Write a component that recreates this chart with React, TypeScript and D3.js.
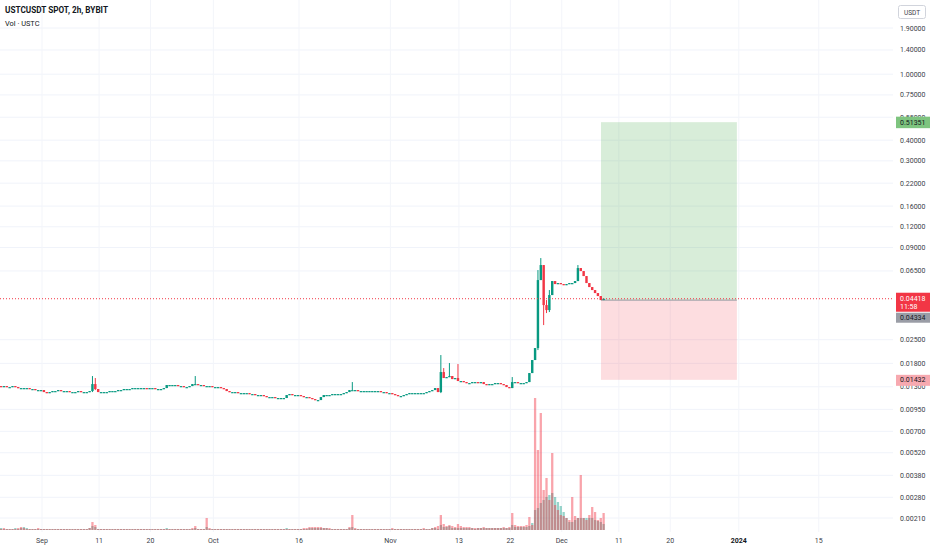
import React from 'react';
import * as d3 from 'd3';

const W = 932;
const H = 550;
const PLOT_R = 893;

// 12h candles starting at this UTC time
const CANDLE_START = Date.UTC(2023, 7, 24, 8, 0);
const CANDLE_STEP = 12 * 3600 * 1000;
const FIRST_OPEN = 0.01313;

const closes = [
  0.01313, 0.01295, 0.01313, 0.01295, 0.01295, 0.01313, 0.01295, 0.01277, 0.01277, 0.01277,
  0.01277, 0.0126, 0.0126, 0.01242, 0.01242, 0.01242, 0.01208, 0.01191, 0.01208, 0.01225,
  0.01225, 0.01242, 0.01225, 0.01225, 0.01225, 0.01208, 0.01208, 0.01208, 0.01225, 0.01208,
  0.01208, 0.01208, 0.01225, 0.0135, 0.0126, 0.01208, 0.01208, 0.01208, 0.01208, 0.01225,
  0.01225, 0.01225, 0.01242, 0.01242, 0.0126, 0.0126, 0.0126, 0.01277, 0.01277, 0.01277,
  0.01277, 0.01277, 0.0126, 0.01277, 0.01277, 0.0126, 0.0126, 0.0126, 0.01277, 0.01332,
  0.01332, 0.01332, 0.01332, 0.01313, 0.01313, 0.01295, 0.01295, 0.01313, 0.0135, 0.0135,
  0.01332, 0.01332, 0.01313, 0.01313, 0.01313, 0.01295, 0.01295, 0.01295, 0.01277, 0.0126,
  0.01225, 0.01208, 0.01208, 0.01208, 0.01191, 0.01191, 0.01191, 0.01191, 0.01175, 0.01175,
  0.01159, 0.01159, 0.01159, 0.01143, 0.01127, 0.01127, 0.01127, 0.01112, 0.01112, 0.01112,
  0.01112, 0.01159, 0.01175, 0.01159, 0.01159, 0.01159, 0.01143, 0.01127, 0.01127, 0.01112,
  0.01096, 0.01081, 0.01081, 0.01127, 0.01159, 0.01159, 0.01159, 0.01175, 0.01175, 0.01175,
  0.01175, 0.01191, 0.01208, 0.01242, 0.01242, 0.01242, 0.01225, 0.01225, 0.01225, 0.01225,
  0.01225, 0.01225, 0.01225, 0.01225, 0.01208, 0.01208, 0.01191, 0.01191, 0.01175, 0.01159,
  0.01143, 0.01143, 0.01159, 0.01175, 0.01191, 0.01191, 0.01191, 0.01191, 0.01191, 0.01191,
  0.01208, 0.01225, 0.01242, 0.01277, 0.01208, 0.01595, 0.01468, 0.01488, 0.01509, 0.01447,
  0.01468, 0.01408, 0.01408, 0.01388, 0.01369, 0.01369, 0.01388, 0.01388, 0.01369, 0.01388,
  0.0135, 0.01332, 0.0135, 0.0135, 0.01369, 0.01369, 0.0135, 0.01332, 0.01295, 0.01277,
  0.01388, 0.01388, 0.01369, 0.01369, 0.01369, 0.01388, 0.01573, 0.01885, 0.02226, 0.05726,
  0.07054, 0.04046, 0.03774, 0.04649, 0.05647, 0.05417, 0.05493, 0.05417, 0.05342, 0.05417,
  0.05493, 0.05493, 0.05647, 0.06765, 0.06489, 0.06054, 0.05493, 0.05196, 0.04984, 0.0478,
  0.04585, 0.04337, 0.04418,
];

// notable wicks: [candle index, high, low] (0 = no wick beyond body)
const wicks: [number, number, number][] = [
  [33, 0.01509, 0.01208],
  [34, 0.01468, 0.01242],
  [69, 0.01509, 0],
  [124, 0.01388, 0],
  [155, 0.0202, 0.01191],
  [156, 0.01686, 0],
  [158, 0.01808, 0],
  [161, 0.01783, 0],
  [180, 0.01488, 0],
  [189, 0.0658, 0.02165],
  [190, 0.07773, 0],
  [191, 0, 0.03064],
  [192, 0.04337, 0.0362],
  [193, 0.04984, 0.03671],
  [203, 0.07054, 0],
];

const volUp = [
  1, 2, 1, 1, 1, 1, 2, 1, 2, 3,
  2, 1, 1, 1, 1, 1, 1, 1, 1, 1,
  1, 1, 1, 1, 1, 1, 1, 1, 1, 1,
  1, 1, 2, 4, 3, 1, 1, 1, 1, 1,
  1, 1, 1, 1, 1, 1, 1, 1, 1, 1,
  1, 1, 1, 1, 1, 1, 1, 1, 1, 2,
  1, 1, 1, 1, 1, 1, 1, 1, 1, 2,
  1, 1, 1, 3, 1, 1, 1, 1, 1, 1,
  1, 1, 1, 1, 1, 1, 1, 1, 1, 1,
  1, 1, 1, 1, 1, 1, 1, 1, 1, 1,
  1, 2, 1, 1, 1, 1, 1, 1, 1, 2,
  2, 2, 2, 2, 2, 2, 1, 1, 1, 1,
  1, 1, 1, 2, 3, 1, 1, 1, 1, 1,
  1, 1, 1, 1, 1, 1, 1, 1, 1, 1,
  1, 1, 1, 1, 1, 1, 1, 1, 1, 1,
  1, 1, 2, 2, 1, 5, 3, 3, 4, 2,
  2, 2, 2, 2, 2, 2, 2, 1, 2, 2,
  2, 2, 2, 2, 2, 2, 2, 2, 2, 2,
  5, 3, 3, 3, 3, 3, 4, 7, 20, 22,
  27, 30, 33, 35, 37, 33, 28, 24, 18, 12,
  8, 8, 10, 12, 12, 12, 12, 12, 12, 10,
  9, 8, 6,
];

const volDown = [
  1, 1, 2, 1, 1, 1, 1, 2, 3, 2,
  1, 1, 1, 1, 2, 1, 1, 1, 1, 1,
  1, 1, 1, 1, 1, 1, 1, 1, 1, 1,
  1, 1, 2, 8, 5, 1, 1, 1, 1, 1,
  1, 1, 1, 1, 1, 1, 1, 1, 1, 1,
  1, 1, 1, 1, 1, 1, 1, 1, 1, 1,
  1, 1, 1, 1, 1, 1, 1, 1, 2, 4,
  1, 1, 1, 12, 2, 1, 1, 1, 1, 1,
  1, 1, 1, 1, 1, 1, 1, 1, 1, 1,
  1, 1, 1, 1, 1, 1, 1, 1, 1, 1,
  1, 1, 1, 1, 1, 1, 1, 2, 2, 3,
  3, 3, 3, 3, 2, 2, 2, 1, 1, 1,
  1, 1, 1, 3, 15, 2, 1, 1, 1, 1,
  1, 1, 1, 1, 1, 1, 1, 1, 2, 1,
  1, 1, 1, 1, 1, 1, 1, 1, 1, 2,
  1, 1, 2, 3, 4, 15, 6, 4, 5, 4,
  3, 6, 4, 3, 3, 3, 2, 2, 2, 2,
  3, 2, 2, 2, 2, 2, 2, 3, 2, 3,
  17, 5, 4, 4, 4, 5, 13, 5, 132, 80,
  117, 40, 52, 30, 77, 25, 20, 15, 14, 12,
  10, 33, 14, 12, 55, 12, 10, 15, 23, 18,
  10, 12, 17,
];

const priceTicks = [1.9, 1.4, 1.0, 0.75, 0.55, 0.4, 0.3, 0.22, 0.16, 0.12, 0.09, 0.065, 0.025, 0.018, 0.013, 0.0095, 0.007, 0.0052, 0.0038, 0.0028, 0.0021];

const timeTickDates = ['2023-09-01', '2023-09-11', '2023-09-20', '2023-10-01', '2023-10-16', '2023-11-01', '2023-11-13', '2023-11-22', '2023-12-01', '2023-12-11', '2023-12-20', '2024-01-01', '2024-01-15'];
const timeTickLabels = ['Sep', '11', '20', 'Oct', '16', 'Nov', '13', '22', 'Dec', '11', '20', '2024', '15'];

const LAST_PRICE = 0.04418;
const COUNTDOWN = '11:58';
const ENTRY = 0.04334;
const TARGET = 0.51351;
const STOP = 0.01432;
const BOX_START = '2023-12-07T21:00:00Z';
const BOX_END = '2023-12-31T16:00:00Z';

const UP = '#089981';
const DOWN = '#f23645';
const FONT = 'Roboto, "Open Sans", sans-serif';

export default function App() {
  const x = d3
    .scaleUtc()
    .domain([new Date(Date.UTC(2023, 7, 24, 15, 30)), new Date(Date.UTC(2024, 0, 28, 0, 0))])
    .range([0, PLOT_R]);
  const y = d3.scaleLog().domain([1.9, 0.0021]).range([28, 518]);
  const vMax = d3.max(volDown.concat(volUp)) as number;
  const yv = d3.scaleLinear().domain([0, vMax]).range([530, 398]);

  const wickMap = new Map<number, [number, number]>();
  wicks.forEach(([i, h, l]) => wickMap.set(i, [h, l]));

  const candles = closes.map((c, i) => {
    const o = i === 0 ? FIRST_OPEN : closes[i - 1];
    const w = wickMap.get(i);
    const hi = Math.max(o, c, w ? w[0] : 0);
    const lo = Math.min(o, c, w && w[1] ? w[1] : Infinity);
    return { t: new Date(CANDLE_START + i * CANDLE_STEP), o, c, hi, lo, i };
  });

  const step = x(new Date(CANDLE_START + CANDLE_STEP)) - x(new Date(CANDLE_START));
  const bodyW = step * 0.85;
  const volW = step * 0.8;

  const bx0 = x(new Date(BOX_START));
  const bx1 = x(new Date(BOX_END));

  const fmt = (v: number) => v.toFixed(5);

  return (
    <svg
      width={W}
      height={H}
      style={{ position: 'absolute', left: 0, top: 0, background: '#fff' }}
      fontFamily={FONT}
    >
      <rect x={0} y={0} width={W} height={H} fill="#ffffff" />
      {/* grid */}
      <g>
        {priceTicks.map((p) => (
          <line key={'h' + p} x1={0} x2={PLOT_R} y1={y(p)} y2={y(p)} stroke="#f0f3fa" strokeWidth={1} />
        ))}
        {timeTickDates.map((d) => (
          <line key={'v' + d} x1={x(new Date(d + 'T00:00:00Z'))} x2={x(new Date(d + 'T00:00:00Z'))} y1={0} y2={532} stroke="#f3f5fa" strokeWidth={1} />
        ))}
      </g>

      {/* long position box */}
      <rect x={bx0} y={y(TARGET)} width={bx1 - bx0} height={y(ENTRY) - y(TARGET)} fill="rgba(76,175,80,0.22)" />
      <rect x={bx0} y={y(ENTRY)} width={bx1 - bx0} height={y(STOP) - y(ENTRY)} fill="rgba(242,54,69,0.17)" />
      <line x1={bx0} x2={bx1} y1={y(ENTRY)} y2={y(ENTRY)} stroke="#9598a1" strokeWidth={1} />

      {/* volume */}
      <g>
        {candles.map((d) => (
          <rect
            key={'vu' + d.i}
            x={x(d.t) - volW / 2}
            y={yv(volUp[d.i])}
            width={volW}
            height={530 - yv(volUp[d.i])}
            fill={UP}
            fillOpacity={0.42}
          />
        ))}
        {candles.map((d) => (
          <rect
            key={'vd' + d.i}
            x={x(d.t) - volW / 2}
            y={yv(volDown[d.i])}
            width={volW}
            height={530 - yv(volDown[d.i])}
            fill={DOWN}
            fillOpacity={0.45}
          />
        ))}
      </g>

      {/* candles */}
      <g>
        {candles.map((d) => {
          const col = d.c >= d.o ? UP : DOWN;
          const cx = x(d.t);
          const top = y(Math.max(d.o, d.c));
          const bot = y(Math.min(d.o, d.c));
          return (
            <g key={'c' + d.i}>
              <line x1={cx} x2={cx} y1={y(d.hi)} y2={y(d.lo)} stroke={col} strokeWidth={1} />
              <rect x={cx - bodyW / 2} y={top} width={bodyW} height={Math.max(1.2, bot - top)} fill={col} />
            </g>
          );
        })}
      </g>

      {/* last price line */}
      <line x1={0} x2={PLOT_R} y1={y(LAST_PRICE)} y2={y(LAST_PRICE)} stroke={DOWN} strokeWidth={1} strokeDasharray="1,2" />

      {/* price axis labels */}
      <g fontSize={7} fill="#3b3e48">
        {priceTicks.map((p) => (
          <text key={'t' + p} x={900} y={y(p) + 2.5}>
            {fmt(p)}
          </text>
        ))}
      </g>

      {/* price axis badges */}
      <g fontSize={7}>
        <rect x={896} y={y(TARGET) - 5.5} width={34} height={11.5} fill="#7ec47f" />
        <text x={900} y={y(TARGET) + 2.5} fill="#131722">{fmt(TARGET)}</text>

        <rect x={896} y={y(LAST_PRICE) - 6} width={34} height={19} fill={DOWN} />
        <text x={900} y={y(LAST_PRICE) + 2.5} fill="#ffffff">{fmt(LAST_PRICE)}</text>
        <text x={900} y={y(LAST_PRICE) + 10.5} fill="#ffffff">{COUNTDOWN}</text>

        <rect x={896} y={y(LAST_PRICE) + 14} width={34} height={10} fill="#9a9da6" />
        <text x={900} y={y(LAST_PRICE) + 21.5} fill="#131722">{fmt(ENTRY)}</text>

        <rect x={896} y={y(STOP) - 5} width={34} height={11} fill="#f7a9b0" />
        <text x={900} y={y(STOP) + 2.5} fill="#131722">{fmt(STOP)}</text>
      </g>

      {/* currency box */}
      <rect x={898.5} y={5.5} width={27} height={13} rx={2} fill="#fff" stroke="#d1d4dc" />
      <text x={912} y={14.5} fontSize={6.5} textAnchor="middle" fill="#3b3e48">USDT</text>

      {/* time axis */}
      <g fontSize={7} fill="#3b3e48" textAnchor="middle">
        {timeTickDates.map((d, k) => (
          <text
            key={'x' + d}
            x={x(new Date(d + 'T00:00:00Z'))}
            y={543}
            fontWeight={timeTickLabels[k] === '2024' ? 700 : 400}
            fill={timeTickLabels[k] === '2024' ? '#131722' : '#3b3e48'}
          >
            {timeTickLabels[k]}
          </text>
        ))}
      </g>

      {/* legend */}
      <text x={5} y={13} fontSize={8.2} fontWeight={700} fill="#131722">USTCUSDT SPOT, 2h, BYBIT</text>
      <text x={5} y={26} fontSize={7.4} fill="#131722">Vol · USTC</text>
    </svg>
  );
}
